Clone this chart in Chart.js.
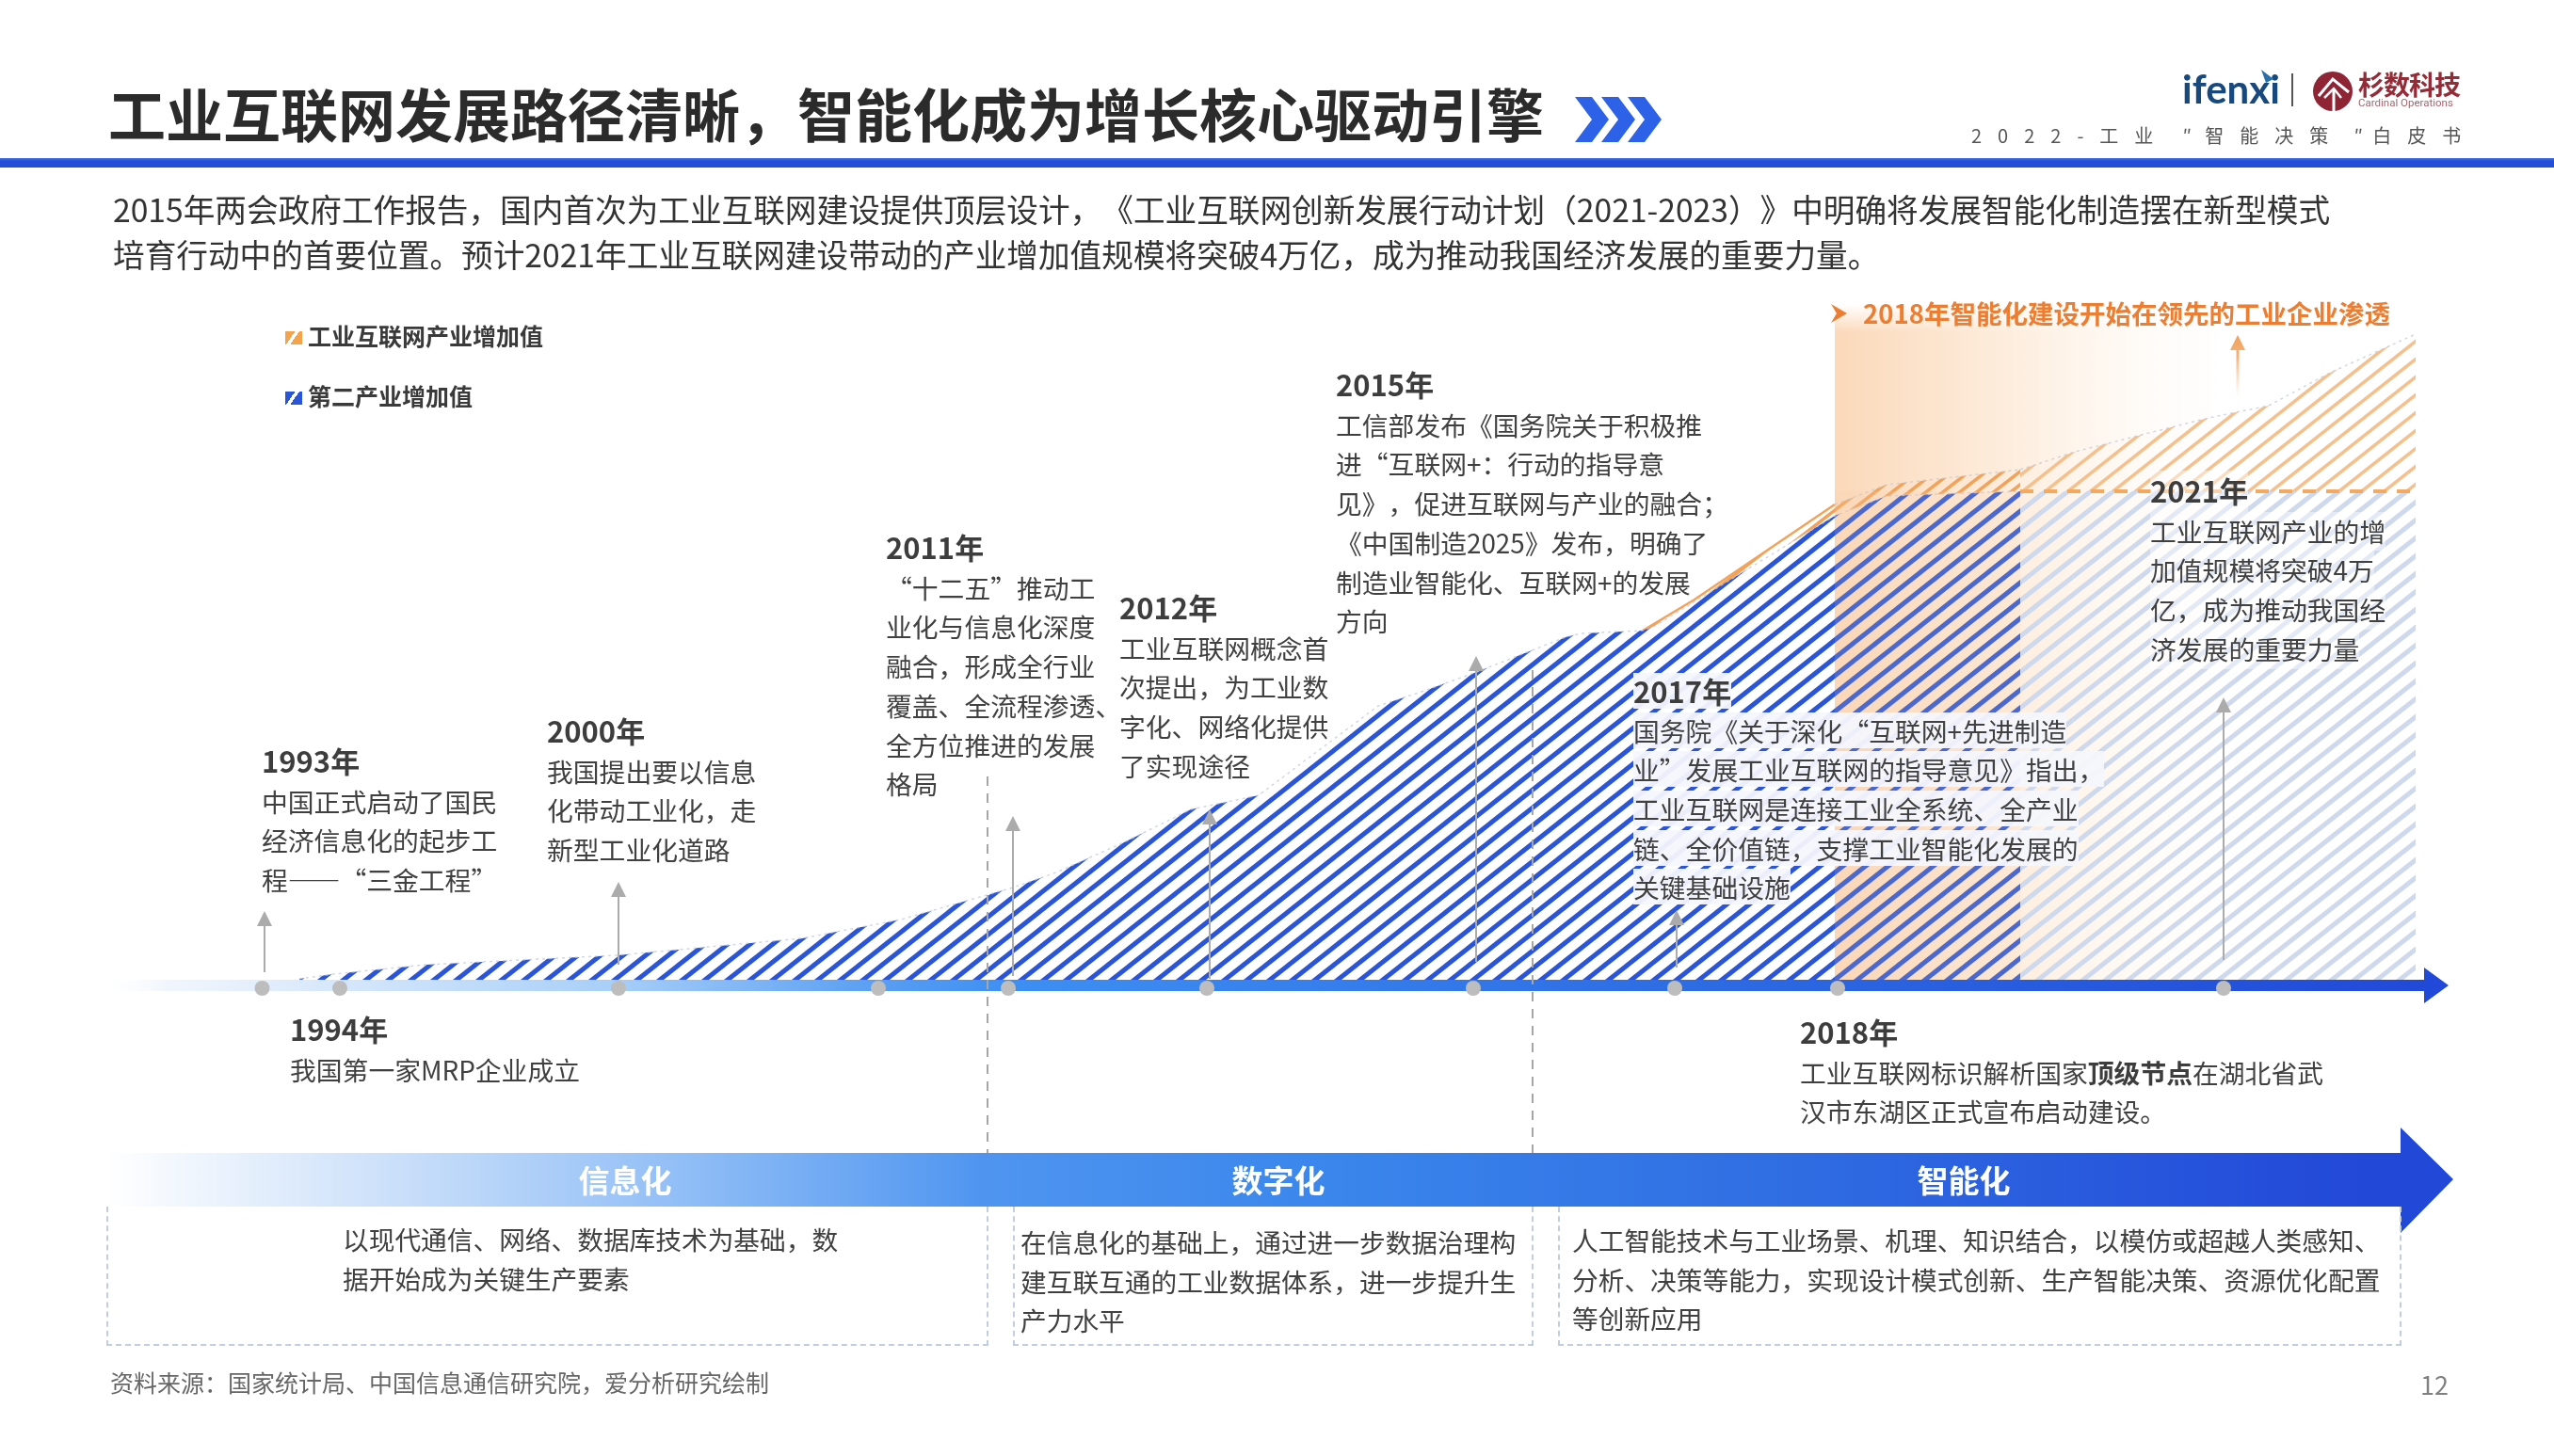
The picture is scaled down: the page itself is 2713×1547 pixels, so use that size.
<!DOCTYPE html>
<html lang="zh-CN">
<head>
<meta charset="utf-8">
<title>工业互联网发展路径</title>
<script src="https://cdn.jsdelivr.net/npm/chart.js@4"></script>
<style>
  html, body { margin: 0; padding: 0; background: #fff; }
  #page { position: relative; width: 2713px; height: 1547px; overflow: hidden; font-family: "Noto Sans CJK SC", "Noto Sans", sans-serif; color: #404040; text-spacing-trim: space-all; }
  #page > * { position: absolute; }
  #chart { left: 0; top: 0; }
  .title { left: 115px; top: 80px; font-size: 61px; line-height: 80px; font-weight: 700; color: #2b2b2b; white-space: nowrap; }
  .rule { left: 0; top: 168px; width: 2713px; height: 10px; background: linear-gradient(#3f6fe6, #2450d8 30%); }
  .sub { left: 2094px; top: 128px; font-size: 20px; line-height: 32px; letter-spacing: 17px; color: #555; white-space: nowrap; }
  .sub i { display: inline-block; font-style: normal; letter-spacing: 0; text-align: center; }
  .intro { left: 120px; top: 198px; font-size: 33.65px; line-height: 47.5px; color: #333; white-space: nowrap; }
  .legend { font-size: 25px; line-height: 36px; font-weight: 700; color: #3a3a3a; white-space: nowrap; }
  .swatch { width: 18px; height: 14px; }
  .note { font-size: 27.8px; line-height: 41.7px; white-space: nowrap; }
  .note b { font-size: 31px; font-weight: 700; color: #3d3d3d; }
  .note span b { font-size: inherit; }
  .veil div { width: fit-content; background: rgba(245,247,252,.95); height: 38px; line-height: 38px; margin-bottom: 3.7px; }
  .soft div { width: fit-content; background: rgba(255,255,255,.45); }
  .hint { left: 1979px; top: 312px; font-size: 27.5px; line-height: 40px; font-weight: 700; color: #ed7d31; white-space: nowrap; }
  .banner { left: 113px; top: 1198px; width: 2493px; height: 112px; clip-path: polygon(0 27px, 2437px 27px, 2437px 0, 2493px 55px, 2437px 112px, 2437px 84px, 0 84px);
    background: linear-gradient(90deg, rgba(255,255,255,0) 0, #cfe2fa 280px, #8fbdf6 620px, #4f95f0 930px, #3a86ec 1300px, #2f6ce2 1800px, #2248d8 2400px); }
  .stage { top: 1228px; font-size: 33px; line-height: 50px; font-weight: 700; color: #fff; transform: translateX(-50%); white-space: nowrap; }
  .box { top: 1282px; height: 148px; border: 2px dashed #c3cde0; border-top: none; box-sizing: border-box; }
  .desc { font-size: 27.7px; line-height: 41.7px; color: #404040; white-space: nowrap; }
  .source { left: 117px; top: 1452px; font-size: 25px; line-height: 32px; color: #666; white-space: nowrap; }
  .pageno { left: 2571px; top: 1454px; font-size: 27px; line-height: 34px; color: #808080; }
  .ifenxi { left: 2318px; top: 69px; font-family: Lato, sans-serif; font-size: 42px; line-height: 50px; font-weight: 700; color: #17497f; }
  .logo-cn { left: 2505px; top: 72px; font-size: 28px; line-height: 34px; font-weight: 700; color: #962b38; letter-spacing: -1px; white-space: nowrap; }
  .logo-en { left: 2505px; top: 102px; font-family: Roboto, sans-serif; font-size: 11.5px; line-height: 14px; color: #a8666e; white-space: nowrap; }
</style>
</head>
<body>
<div id="page">
  <canvas id="chart" width="2713" height="1547"></canvas>

  <div class="title">工业互联网发展路径清晰，智能化成为增长核心驱动引擎</div>
  <svg style="left:1673px;top:103px" width="95" height="50" fill="#2d62e8">
    <polygon points="0,0 18,0 36,24 18,48 0,48 18,24"/>
    <polygon points="28,0 46,0 64,24 46,48 28,48 46,24"/>
    <polygon points="56,0 74,0 92,24 74,48 56,48 74,24"/>
  </svg>
  <div class="rule"></div>

  <div class="ifenxi">ifenxi</div>
  <svg style="left:2398px;top:72px" width="20" height="20"><polygon points="4,2 17,12 9,16" fill="#2a6fa8"/></svg>
  <svg style="left:2434px;top:75px" width="44" height="44">
    <line x1="1" y1="3" x2="1" y2="38" stroke="#555" stroke-width="2"/>
  </svg>
  <svg style="left:2455px;top:74px" width="46" height="46">
    <circle cx="23" cy="23" r="21" fill="#8f2434"/>
    <polyline points="8,28 23,10 40,24 M23,10" fill="none" stroke="#fff" stroke-width="3"/>
    <polyline points="14,30 24,20 32,30" fill="none" stroke="#fff" stroke-width="2.5"/>
    <line x1="24" y1="20" x2="24" y2="44" stroke="#fff" stroke-width="3"/>
  </svg>
  <div class="logo-cn">杉数科技</div>
  <div class="logo-en">Cardinal Operations</div>
  <div class="sub">2022-工业<i style="width:38px">″</i>智能决策<i style="width:30px">″</i>白皮书</div>

  <div class="intro">2015年两会政府工作报告，国内首次为工业互联网建设提供顶层设计，《工业互联网创新发展行动计划（2021-2023）》中明确将发展智能化制造摆在新型模式<br>培育行动中的首要位置。预计2021年工业互联网建设带动的产业增加值规模将突破4万亿，成为推动我国经济发展的重要力量。</div>

  <div class="swatch" style="left:303px;top:352px;background:linear-gradient(125deg,#f5a34a 38%,#fff 38% 54%,#f5a34a 54%)"></div>
  <div class="legend" id="legend0" style="left:327px;top:338px"></div>
  <div class="swatch" style="left:303px;top:416px;background:linear-gradient(125deg,#2a55d8 38%,#fff 38% 54%,#2a55d8 54%)"></div>
  <div class="legend" id="legend1" style="left:327px;top:402px"></div>

  <svg style="left:1944px;top:322px" width="20" height="22"><polygon points="1,1 18,11 1,21 7,11" fill="#ed7d31"/></svg>
  <div class="hint">2018年智能化建设开始在领先的工业企业渗透</div>

  <div class="note" style="left:278px;top:787px"><b>1993年</b><br>中国正式启动了国民<br>经济信息化的起步工<br>程——“三金工程”</div>
  <div class="note" style="left:308px;top:1072px"><b>1994年</b><br>我国第一家MRP企业成立</div>
  <div class="note" style="left:581px;top:755px"><b>2000年</b><br>我国提出要以信息<br>化带动工业化，走<br>新型工业化道路</div>
  <div class="note" style="left:941px;top:560px"><b>2011年</b><br>“十二五”推动工<br>业化与信息化深度<br>融合，形成全行业<br>覆盖、全流程渗透、<br>全方位推进的发展<br>格局</div>
  <div class="note" style="left:1189px;top:624px"><b>2012年</b><br>工业互联网概念首<br>次提出，为工业数<br>字化、网络化提供<br>了实现途径</div>
  <div class="note" style="left:1419px;top:387px"><b>2015年</b><br>工信部发布《国务院关于积极推<br>进“互联网+：行动的指导意<br>见》，促进互联网与产业的融合；<br>《中国制造2025》发布，明确了<br>制造业智能化、互联网+的发展<br>方向</div>
  <div class="note veil" style="left:1735px;top:715px"><div><b>2017年</b></div><div>国务院《关于深化“互联网+先进制造</div><div>业”发展工业互联网的指导意见》指出，</div><div>工业互联网是连接工业全系统、全产业</div><div>链、全价值链，支撑工业智能化发展的</div><div>关键基础设施</div></div>
  <div class="note" style="left:1912px;top:1075px"><b>2018年</b><br>工业互联网标识解析国家<span style="font-weight:700"><b>顶级节点</b></span>在湖北省武<br>汉市东湖区正式宣布启动建设。</div>
  <div class="note soft" style="left:2284px;top:500px"><div><b>2021年</b></div><div>工业互联网产业的增</div><div>加值规模将突破4万</div><div>亿，成为推动我国经</div><div>济发展的重要力量</div></div>

  <div class="banner"></div>
  <div class="stage" id="stage0" style="left:664px"></div>
  <div class="stage" id="stage1" style="left:1358px"></div>
  <div class="stage" id="stage2" style="left:2086px"></div>

  <div class="box" style="left:113px;width:937px"></div>
  <div class="box" style="left:1076px;width:553px"></div>
  <div class="box" style="left:1655px;width:896px"></div>
  <div class="desc" style="left:364px;top:1296px">以现代通信、网络、数据库技术为基础，数<br>据开始成为关键生产要素</div>
  <div class="desc" style="left:1084px;top:1299px">在信息化的基础上，通过进一步数据治理构<br>建互联互通的工业数据体系，进一步提升生<br>产力水平</div>
  <div class="desc" style="left:1670px;top:1297px">人工智能技术与工业场景、机理、知识结合，以模仿或超越人类感知、<br>分析、决策等能力，实现设计模式创新、生产智能决策、资源优化配置<br>等创新应用</div>

  <div class="source">资料来源：国家统计局、中国信息通信研究院，爱分析研究绘制</div>
  <div class="pageno">12</div>
</div>

<script>
// values, x = position along the timeline (0-100), y = relative height
const seriesNames = ['工业互联网产业增加值', '第二产业增加值'];
const stageNames = ['信息化', '数字化', '智能化'];

const bluePos = [8.72, 10.16, 14.08, 22.2, 30.08, 34.28, 39.04, 40.88, 43.76, 46.6, 49.48, 54.56, 56.4, 58.64, 62.52, 63.16, 65.8, 66.32, 73.96, 76.16, 79.52, 81.84];
const blueVal = [0.07, 0.12, 0.22, 0.32, 0.5, 0.7, 1.04, 1.2, 1.52, 1.87, 2.02, 2.97, 3.12, 3.32, 3.7, 3.74, 3.77, 3.82, 4.99, 5.2, 5.23, 5.25];
const blueForecastPos = [81.84, 98.64];
const blueForecastVal = [5.25, 5.25];

const orangePos = [65.8, 66.4, 68, 73.96, 76.16, 81.84];
const orangeVal = [3.77, 3.86, 4.1, 5.11, 5.32, 5.48];
const orangeForecastPos = [81.84, 84.16, 89.84, 92.4, 95, 98.64];
const orangeForecastVal = [5.48, 5.67, 6.03, 6.16, 6.51, 6.92];

// dots on the timeline (the fourth one has no label in the picture)
const eventYears = ['1993', '1994', '2000', '', '2011', '2012', '2015', '2017', '2018', '2021'];
const eventPos = [7.14, 10.44, 22.28, 33.32, 38.84, 47.28, 58.6, 67.16, 74.08, 90.48];
const eventVal = [-0.03, -0.03, -0.03, -0.03, -0.03, -0.03, -0.03, -0.03, -0.03, -0.03];

// grey arrows going up from the dots
const arrowPos = [7.24, 22.28, 39.04, 47.4, 58.72, 67.24, 90.48];
const arrowBase = [0.14, 0.22, 0.1, 0.07, 0.25, 0.19, 0.27];
const arrowTop = [0.79, 1.1, 1.8, 1.87, 3.5, 0.8, 3.06];

const stageEdges = [37.96, 61.12];
const stageEdgeTops = [2.22, 3.35];

function toPoints(xs, ys) {
  return xs.map((x, i) => ({ x: x, y: ys[i] }));
}

// diagonal stripes, the tile repeats so neighbouring areas line up
function stripes(color, lineWidth, w, h) {
  const tile = document.createElement('canvas');
  tile.width = w;
  tile.height = h;
  const c = tile.getContext('2d');
  c.strokeStyle = color;
  c.lineWidth = lineWidth;
  [-w, 0, w].forEach(dx => {
    c.beginPath();
    c.moveTo(dx - w, 2 * h);
    c.lineTo(dx + 2 * w, -h);
    c.stroke();
  });
  return document.getElementById('chart').getContext('2d').createPattern(tile, 'repeat');
}

function drawArrow(ctx, x, yBase, yTop, color, lineWidth) {
  ctx.strokeStyle = color;
  ctx.fillStyle = color;
  ctx.lineWidth = lineWidth;
  ctx.beginPath();
  ctx.moveTo(x, yBase);
  ctx.lineTo(x, yTop + 12);
  ctx.stroke();
  ctx.beginPath();
  ctx.moveTo(x, yTop);
  ctx.lineTo(x - 8, yTop + 16);
  ctx.lineTo(x + 8, yTop + 16);
  ctx.closePath();
  ctx.fill();
}

// everything under the areas: orange band and the timeline arrow
const backdrop = {
  id: 'backdrop',
  beforeDatasetsDraw(chart) {
    const { ctx, scales: { x, y } } = chart;
    const left = x.getPixelForValue(73.96);
    const right = x.getPixelForValue(98.64);
    const top = y.getPixelForValue(7.24);
    const bottom = y.getPixelForValue(0.06);

    let g = ctx.createLinearGradient(left, 0, right, 0);
    g.addColorStop(0, '#fbd9ba');
    g.addColorStop(0.3, '#fdeddd');
    g.addColorStop(0.7, 'rgba(255,250,245,0)');
    ctx.fillStyle = g;
    ctx.fillRect(left, top, right - left, bottom - top);
    g = ctx.createLinearGradient(0, top, 0, top + 30);
    g.addColorStop(0, '#fff');
    g.addColorStop(1, 'rgba(255,255,255,0)');
    ctx.fillStyle = g;
    ctx.fillRect(left, top, right - left, 30);

    const x0 = x.getPixelForValue(0);
    const x1 = x.getPixelForValue(99);
    const tip = x.getPixelForValue(100.04);
    const yc = y.getPixelForValue(0);
    g = ctx.createLinearGradient(x0, 0, tip, 0);
    g.addColorStop(0, 'rgba(255,255,255,0)');
    g.addColorStop(0.03, '#f1f6fd');
    g.addColorStop(0.07, '#e3eefc');
    g.addColorStop(0.22, '#a8cff8');
    g.addColorStop(0.33, '#5a9ff2');
    g.addColorStop(0.39, '#3d8ff3');
    g.addColorStop(0.7, '#2c69e2');
    g.addColorStop(1, '#2148d8');
    ctx.fillStyle = g;
    ctx.beginPath();
    ctx.moveTo(x0, yc - 6);
    ctx.lineTo(x1, yc - 6);
    ctx.lineTo(x1, yc - 19);
    ctx.lineTo(tip, yc);
    ctx.lineTo(x1, yc + 19);
    ctx.lineTo(x1, yc + 6);
    ctx.lineTo(x0, yc + 6);
    ctx.closePath();
    ctx.fill();
  },
  afterDatasetsDraw(chart) {
    const { ctx, scales: { x, y } } = chart;
    ctx.save();

    // orange tint also sits over the blue stripes between 2018 and the forecast
    ctx.fillStyle = 'rgba(250,205,165,.16)';
    const tintLeft = x.getPixelForValue(73.96);
    const tintTop = y.getPixelForValue(5.25);
    ctx.fillRect(tintLeft, tintTop, x.getPixelForValue(81.84) - tintLeft, y.getPixelForValue(0.06) - tintTop);

    // stage boundaries
    ctx.strokeStyle = '#a6a6a6';
    ctx.lineWidth = 2;
    ctx.setLineDash([10, 8]);
    stageEdges.forEach((p, i) => {
      ctx.beginPath();
      ctx.moveTo(x.getPixelForValue(p), y.getPixelForValue(stageEdgeTops[i]));
      ctx.lineTo(x.getPixelForValue(p), y.getPixelForValue(-1.81));
      ctx.stroke();
    });
    ctx.setLineDash([]);

    arrowPos.forEach((p, i) => {
      drawArrow(ctx, x.getPixelForValue(p), y.getPixelForValue(arrowBase[i]), y.getPixelForValue(arrowTop[i]), '#ababab', 2);
    });

    // orange arrow above the forecast
    const oy0 = y.getPixelForValue(6.26);
    const oy1 = y.getPixelForValue(6.91);
    const og = ctx.createLinearGradient(0, oy1, 0, oy0);
    og.addColorStop(0, '#f2a05a');
    og.addColorStop(0.35, '#f5b27a');
    og.addColorStop(1, 'rgba(248,200,150,0)');
    drawArrow(ctx, x.getPixelForValue(91.08), oy0, oy1, og, 3);
    ctx.restore();
  }
};

const edge = 'rgba(190,200,215,.7)';

new Chart(document.getElementById('chart'), {
  type: 'line',
  data: {
    datasets: [
      {
        label: '事件',
        data: toPoints(eventPos, eventVal),
        showLine: false,
        pointRadius: 8,
        pointBackgroundColor: '#bdbdbd',
        pointBorderWidth: 0
      },
      {
        label: seriesNames[1],
        data: toPoints(bluePos, blueVal),
        fill: { value: 0.06 },
        backgroundColor: stripes('#2a55d8', 5, 24, 19),
        borderColor: edge,
        borderWidth: 1.5,
        borderDash: [3, 4],
        pointRadius: 0
      },
      {
        label: seriesNames[1] + '（预测）',
        data: toPoints(blueForecastPos, blueForecastVal),
        fill: { value: 0.06 },
        backgroundColor: stripes('#ced9ed', 5, 24, 19),
        borderColor: '#f4a95f',
        borderWidth: 4,
        borderDash: [14, 11],
        pointRadius: 0
      },
      {
        label: seriesNames[0],
        data: toPoints(orangePos, orangeVal),
        fill: 1,
        backgroundColor: stripes('#f3a258', 3.5, 18, 14),
        borderColor: edge,
        borderWidth: 1.5,
        borderDash: [3, 4],
        // the rising part has a solid orange edge
        segment: {
          borderColor: c => (c.p1.parsed.x <= 73.96 ? '#f3a258' : undefined),
          borderDash: c => (c.p1.parsed.x <= 73.96 ? [] : undefined),
          borderWidth: c => (c.p1.parsed.x <= 73.96 ? 2.5 : undefined)
        },
        pointRadius: 0
      },
      {
        label: seriesNames[0] + '（预测）',
        data: toPoints(orangeForecastPos, orangeForecastVal),
        fill: 2,
        backgroundColor: stripes('#f6c08c', 3.5, 24, 19),
        borderColor: edge,
        borderWidth: 1.5,
        borderDash: [3, 4],
        pointRadius: 0
      }
    ]
  },
  options: {
    responsive: false,
    devicePixelRatio: 1,
    animation: false,
    // chart area runs from x 100 to 2600 and y 347 to 1097
    layout: { padding: { left: 100, right: 113, top: 347, bottom: 450 } },
    plugins: { legend: { display: false }, tooltip: { enabled: false } },
    scales: {
      x: { type: 'linear', min: 0, max: 100, display: false },
      y: { min: -0.5, max: 7, display: false }
    }
  },
  plugins: [backdrop]
});

document.getElementById('legend0').textContent = seriesNames[0];
document.getElementById('legend1').textContent = seriesNames[1];
stageNames.forEach((name, i) => {
  document.getElementById('stage' + i).textContent = name;
});
</script>
</body>
</html>
